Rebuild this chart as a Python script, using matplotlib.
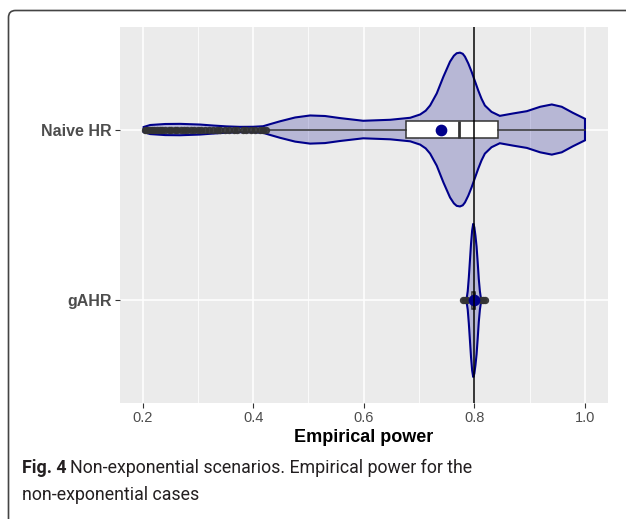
import matplotlib

matplotlib.use('Agg')
import matplotlib.pyplot as plt
from matplotlib.patches import FancyBboxPatch
from matplotlib.transforms import IdentityTransform

plt.rcParams['font.family'] = ['Liberation Sans', 'DejaVu Sans']

# categories, top to bottom
labels = ['Naive HR', 'gAHR']

# violin outlines: x = empirical power, rel = half-width / max half-width
naive_x = [0.202, 0.214, 0.241, 0.268, 0.304, 0.328, 0.352, 0.376, 0.400, 0.418, 0.433, 0.449,
           0.476, 0.503, 0.530, 0.557, 0.599, 0.648, 0.684, 0.702, 0.712, 0.720, 0.732, 0.744,
           0.756, 0.763, 0.768, 0.774, 0.779, 0.783, 0.789, 0.795, 0.801, 0.807, 0.813, 0.819,
           0.831, 0.846, 0.870, 0.895, 0.919, 0.940, 0.958, 0.978, 1.000]
naive_rel = [0.033, 0.059, 0.072, 0.074, 0.065, 0.052, 0.041, 0.035, 0.036, 0.043, 0.075, 0.108,
             0.157, 0.183, 0.176, 0.149, 0.114, 0.127, 0.153, 0.196, 0.245, 0.313, 0.470, 0.687,
             0.883, 0.960, 0.992, 1.000, 0.985, 0.948, 0.860, 0.752, 0.630, 0.509, 0.400, 0.313,
             0.230, 0.178, 0.209, 0.239, 0.296, 0.326, 0.296, 0.218, 0.140]

gahr_x = [0.786, 0.788, 0.790, 0.792, 0.794, 0.796, 0.798, 0.800, 0.802, 0.804, 0.806, 0.808, 0.810, 0.812]
gahr_rel = [0.02, 0.12, 0.30, 0.52, 0.74, 0.91, 1.00, 0.95, 0.84, 0.70, 0.50, 0.28, 0.12, 0.02]

# boxplot summaries
naive_box = dict(q1=0.676, med=0.772, q3=0.842, whislo=0.427, whishi=1.0, mean=0.739)
gahr_box = dict(q1=0.796, med=0.799, q3=0.802, whislo=0.788, whishi=0.810, mean=0.799)

naive_out = [0.205, 0.209, 0.213, 0.217, 0.221, 0.226, 0.231, 0.236, 0.241, 0.247, 0.252, 0.258,
             0.263, 0.269, 0.275, 0.281, 0.287, 0.293, 0.300, 0.306, 0.313, 0.320, 0.327, 0.334,
             0.341, 0.349, 0.357, 0.366, 0.371, 0.381, 0.388, 0.397, 0.403, 0.412, 0.418, 0.424]
gahr_out = [0.779, 0.783, 0.786, 0.812, 0.815, 0.819]

ref_line = 0.8
xticks = [0.2, 0.4, 0.6, 0.8, 1.0]
xtick_labels = ['0.2', '0.4', '0.6', '0.8', '1.0']

VIOLIN = '#00008B'
HALF = 0.45

fig = plt.figure(figsize=(6.26, 5.19), dpi=100)
ax = fig.add_axes([120 / 626, 1 - 403 / 519, 487.6 / 626, 376 / 519])
ax.set_facecolor('#EBEBEB')
for s in ax.spines.values():
    s.set_visible(False)

ax.set_xlim(0.1593, 1.0409)
ax.set_ylim(2.6, 0.4)

ax.set_xticks(xticks)
ax.set_xticklabels(xtick_labels)
ax.set_xticks([0.3, 0.5, 0.7, 0.9], minor=True)
ax.set_yticks([1, 2])
ax.set_yticklabels(labels, fontweight='bold')
ax.grid(which='major', color='white', lw=1.1)
ax.grid(which='minor', axis='x', color='white', lw=0.55)
ax.set_axisbelow(True)
ax.tick_params(axis='both', which='major', length=3.5, width=0.8, color='#333333',
               labelcolor='#4D4D4D', pad=2.5)
ax.tick_params(axis='x', labelsize=10.5)
ax.tick_params(axis='y', labelsize=11.5)
ax.tick_params(which='minor', length=0)
ax.set_xlabel('Empirical power', fontsize=13, fontweight='bold', labelpad=3, color='black')

series = [(1, naive_x, naive_rel, naive_box, naive_out),
          (2, gahr_x, gahr_rel, gahr_box, gahr_out)]

for pos, xs, rel, box, outl in series:
    top = [pos - HALF * r for r in rel]
    bot = [pos + HALF * r for r in rel]
    px = list(xs) + list(xs[::-1])
    py = top + bot[::-1]
    ax.fill(px, py, facecolor=(0, 0, 0.545, 0.22), edgecolor=VIOLIN, lw=1.5, zorder=2)

    st = dict(box)
    st['fliers'] = outl
    ax.bxp([st], positions=[pos], widths=0.1, orientation='horizontal', patch_artist=True,
           showcaps=False, showmeans=False, manage_ticks=False,
           boxprops=dict(facecolor='white', edgecolor='#333333', lw=1.1),
           medianprops=dict(color='#333333', lw=2.0),
           whiskerprops=dict(color='#333333', lw=1.1),
           flierprops=dict(marker='o', markersize=4.3, markerfacecolor='#333333',
                           markeredgecolor='#333333', alpha=0.9),
           zorder=3)
    ax.scatter([box['mean']], [pos], s=55, color=VIOLIN, zorder=5)

ax.axvline(ref_line, color='black', lw=1.1, zorder=6)

# caption
renderer = fig.canvas.get_renderer()
t1 = fig.text(22 / 626, 1 - 468 / 519, 'Fig. 4', fontsize=12.8, fontweight='bold',
              family='Roboto', color='#231F20', va='center')
bb = t1.get_window_extent(renderer)
fig.text((bb.x1 + 4) / 626, 1 - 468 / 519, 'Non-exponential scenarios. Empirical power for the',
         fontsize=12.8, family='Roboto', color='#231F20', va='center')
fig.text(22 / 626, 1 - 495 / 519, 'non-exponential cases', fontsize=12.8, family='Roboto',
         color='#231F20', va='center')

# rounded frame running off the right and bottom edges
frame = FancyBboxPatch((8.5, -40), 700, 508.5 + 40, boxstyle='round,pad=0,rounding_size=7',
                       transform=IdentityTransform(), fill=False, edgecolor='#444444', lw=1.2)
fig.patches.append(frame)

fig.savefig('out.png', dpi=100)
